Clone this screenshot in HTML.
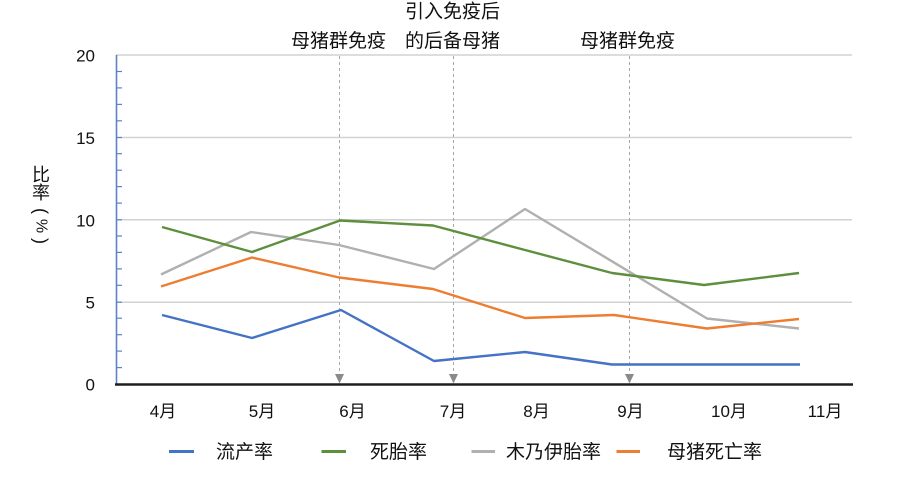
<!DOCTYPE html>
<html>
<head>
<meta charset="utf-8">
<style>
html,body{margin:0;padding:0;background:#fff;}
body{width:899px;height:485px;position:relative;overflow:hidden;font-family:"Liberation Sans","Noto Sans CJK SC",sans-serif;}
svg{position:absolute;left:0;top:0;}
svg text{font-family:"Liberation Sans","Noto Sans CJK SC",sans-serif;fill:#111;}
</style>
</head>
<body>
<svg width="899" height="485" viewBox="0 0 899 485">
  <!-- gridlines -->
  <g stroke="#d2d2d2" stroke-width="1.5">
    <line x1="116" y1="55" x2="852" y2="55"/>
    <line x1="116" y1="137.5" x2="852" y2="137.5"/>
    <line x1="116" y1="219.8" x2="852" y2="219.8"/>
    <line x1="116" y1="302.2" x2="852" y2="302.2"/>
  </g>
  <!-- dashed annotation lines -->
  <g stroke="#a8a8a8" stroke-width="1" stroke-dasharray="3,3">
    <line x1="339.5" y1="56" x2="339.5" y2="376"/>
    <line x1="453.5" y1="56" x2="453.5" y2="376"/>
    <line x1="629.5" y1="56" x2="629.5" y2="376"/>
  </g>
  <g fill="#8a8a8a">
    <polygon points="335,374 344,374 339.5,383.5"/>
    <polygon points="449,374 458,374 453.5,383.5"/>
    <polygon points="625,374 634,374 629.5,383.5"/>
  </g>
  <!-- y axis -->
  <line x1="116.5" y1="55" x2="116.5" y2="384" stroke="#5b84c8" stroke-width="1.6"/>
  <g stroke="#5b84c8" stroke-width="1.2">
    <line x1="116" y1="367.6" x2="122" y2="367.6"/>
    <line x1="116" y1="351.1" x2="122" y2="351.1"/>
    <line x1="116" y1="334.7" x2="122" y2="334.7"/>
    <line x1="116" y1="318.2" x2="122" y2="318.2"/>
    <line x1="116" y1="302.2" x2="122" y2="302.2"/>
    <line x1="116" y1="285.3" x2="122" y2="285.3"/>
    <line x1="116" y1="268.9" x2="122" y2="268.9"/>
    <line x1="116" y1="252.4" x2="122" y2="252.4"/>
    <line x1="116" y1="236.0" x2="122" y2="236.0"/>
    <line x1="116" y1="219.8" x2="122" y2="219.8"/>
    <line x1="116" y1="203.1" x2="122" y2="203.1"/>
    <line x1="116" y1="186.6" x2="122" y2="186.6"/>
    <line x1="116" y1="170.2" x2="122" y2="170.2"/>
    <line x1="116" y1="153.7" x2="122" y2="153.7"/>
    <line x1="116" y1="137.5" x2="122" y2="137.5"/>
    <line x1="116" y1="120.8" x2="122" y2="120.8"/>
    <line x1="116" y1="104.4" x2="122" y2="104.4"/>
    <line x1="116" y1="87.9" x2="122" y2="87.9"/>
    <line x1="116" y1="71.5" x2="122" y2="71.5"/>
  </g>
  <!-- x axis -->
  <line x1="115" y1="384.5" x2="853" y2="384.5" stroke="#1e1e1e" stroke-width="2.6"/>

  <!-- series -->
  <g fill="none" stroke-width="2.4" stroke-linejoin="round" stroke-linecap="butt">
    <polyline stroke="#b0b0b0" points="161,274.5 251,232 339,245 434,269 525,209 612,261.3 707,318.5 799,328.5"/>
    <polyline stroke="#ed7d31" points="161,286.5 252,257.5 339,277.5 433,289 525,318 614,315 707,328.5 799,319"/>
    <polyline stroke="#5e8f3e" points="162,227 252,252 340,220.5 433,225.5 525,250 612,273 704,285 799,273"/>
    <polyline stroke="#4472c4" points="162,315 252,338 341,310 434,361 525,352 612,364.5 706,364.5 800,364.5"/>
  </g>

  <!-- y tick labels -->
  <g font-size="17" text-anchor="end">
    <text x="95" y="61.5">20</text>
    <text x="95" y="144">15</text>
    <text x="95" y="226.3">10</text>
    <text x="95" y="308.7">5</text>
    <text x="95" y="390.5">0</text>
  </g>

  <!-- y title -->
  <g font-size="18" text-anchor="middle">
    <text x="41" y="181">比</text>
    <text x="41" y="199">率</text>
    <text transform="translate(41,211) rotate(90)" dominant-baseline="central">(</text>
    <text transform="translate(41,226) rotate(90)" dominant-baseline="central" font-size="16">%</text>
    <text transform="translate(41,241) rotate(90)" dominant-baseline="central">)</text>
  </g>

  <!-- x labels -->
  <g font-size="17" text-anchor="middle">
    <text x="163" y="417">4月</text>
    <text x="262" y="417">5月</text>
    <text x="352.5" y="417">6月</text>
    <text x="453" y="417">7月</text>
    <text x="536.5" y="417">8月</text>
    <text x="630.5" y="417">9月</text>
    <text x="729" y="417">10月</text>
    <text x="825" y="417">11月</text>
  </g>

  <!-- annotations -->
  <g font-size="19">
    <text x="291" y="47">母猪群免疫</text>
    <text x="405" y="17.5">引入免疫后</text>
    <text x="405" y="47">的后备母猪</text>
    <text x="580" y="47">母猪群免疫</text>
  </g>

  <!-- legend -->
  <g stroke-width="3">
    <line x1="169" y1="451.5" x2="194" y2="451.5" stroke="#4472c4"/>
    <line x1="321.5" y1="451.5" x2="346" y2="451.5" stroke="#5e8f3e"/>
    <line x1="471.5" y1="451.5" x2="495" y2="451.5" stroke="#b0b0b0"/>
    <line x1="616.5" y1="451.5" x2="640" y2="451.5" stroke="#ed7d31"/>
  </g>
  <g font-size="19">
    <text x="216" y="458">流产率</text>
    <text x="370" y="458">死胎率</text>
    <text x="506" y="458">木乃伊胎率</text>
    <text x="667" y="458">母猪死亡率</text>
  </g>
</svg>
</body>
</html>
